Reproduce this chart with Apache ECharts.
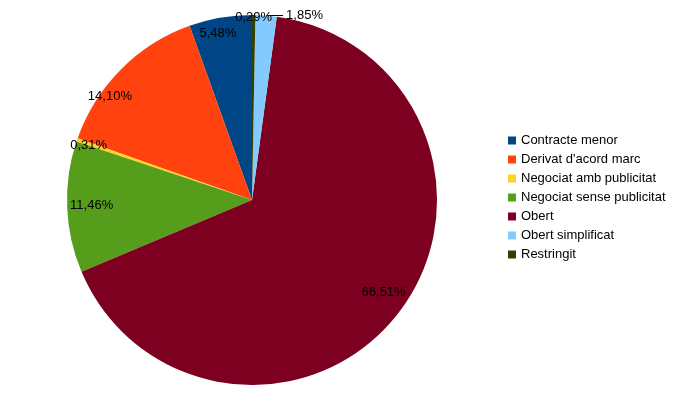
<!DOCTYPE html>
<html>
<head>
<meta charset="utf-8">
<script src="https://cdn.jsdelivr.net/npm/echarts@6/dist/echarts.min.js"></script>
<style>html,body{margin:0;padding:0;background:#fff}#c{width:678px;height:394px}</style>
</head>
<body>
<div id="c"></div>
<script>
const categories = ['Contracte menor', "Derivat d'acord marc", 'Negociat amb publicitat', 'Negociat sense publicitat', 'Obert', 'Obert simplificat', 'Restringit'];
const values = [5.48, 14.10, 0.31, 11.46, 66.51, 1.85, 0.29];
const colors = ['#004586', '#ff420e', '#ffd320', '#579d1c', '#7e0021', '#83caff', '#314004'];

const FONT = 'Liberation Sans';
const FS = 13;
const CX = 252, CY = 200, R = 185;
const fmt = p => p.value.toFixed(2).replace('.', ',') + '%';

// small label nudges (LibreOffice-style placement inside slices)
const nudges = { 0: [-5, 0], 1: [-22, 16], 2: [-3, 0], 3: [9, -1], 4: [-3, -11] };

const baseData = categories.map((n, i) => ({ name: n, value: values[i] }));
const transparentStyle = { color: 'rgba(0,0,0,0)' };

function overlay(radius, pick, labelOpts, layout) {
  const s = {
    type: 'pie', silent: true, center: [CX, CY], radius: radius,
    clockwise: false, startAngle: 90, avoidLabelOverlap: false,
    itemStyle: transparentStyle, emphasis: { disabled: true },
    labelLine: labelOpts.labelLine || { show: false },
    data: baseData.map((d, i) => ({
      name: d.name, value: d.value,
      label: { show: pick.includes(i) }
    })),
    label: Object.assign({ formatter: fmt, color: '#000', fontFamily: FONT, fontSize: FS }, labelOpts.label)
  };
  if (layout) s.labelLayout = layout;
  return s;
}

const chart = echarts.init(document.getElementById('c'), null, { renderer: 'canvas' });
chart.setOption({
  animation: false,
  color: colors,
  legend: {
    data: categories,
    orient: 'vertical',
    left: 503, top: 129,
    itemWidth: 8, itemHeight: 8, itemGap: 6,
    icon: 'rect',
    selectedMode: false,
    textStyle: { fontFamily: FONT, fontSize: FS, color: '#000' }
  },
  series: [
    {
      type: 'pie', center: [CX, CY], radius: [0, R],
      clockwise: false, startAngle: 90, silent: true,
      label: { show: false }, labelLine: { show: false },
      emphasis: { disabled: true },
      data: baseData
    },
    overlay([R * 0.8, R], [0, 1, 2, 3, 4], { label: { position: 'inside' } }, function (p) {
      const n = nudges[p.dataIndex];
      return n ? { dx: n[0], dy: n[1] } : {};
    }),
    overlay([R - 20, R + 10], [6], { label: { position: 'inside' } }),
    overlay([0, R], [5], {
      label: { position: 'outside', distanceToLabelLine: 3, alignTo: 'none' },
      labelLine: { show: true, length: 0, length2: 17, lineStyle: { color: '#000', width: 1 } }
    })
  ]
});
</script>
</body>
</html>
